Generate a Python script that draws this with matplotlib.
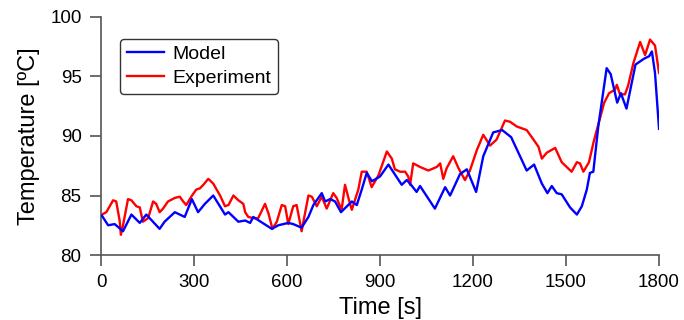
import matplotlib
matplotlib.use("Agg")
import matplotlib.pyplot as plt

plt.rcParams['font.family'] = ['Liberation Sans', 'DejaVu Sans']

# Model (blue)
model_t = [3, 23, 44, 71, 98, 125, 146, 189, 205, 238, 270, 293, 313, 335, 362,
           400, 411, 443, 465, 481, 491, 551, 572, 604, 620, 647, 669, 685, 712,
           723, 739, 755, 774, 809, 825, 841, 857, 874, 900, 927, 970, 986, 997,
           1018, 1029, 1077, 1110, 1126, 1158, 1180, 1210, 1233, 1265, 1294, 1323,
           1357, 1373, 1397, 1422, 1440, 1454, 1470, 1486, 1513, 1535, 1551, 1567,
           1577, 1588, 1604, 1631, 1644, 1665, 1677, 1695, 1724, 1752, 1768, 1777,
           1787, 1800]
model_T = [83.3, 82.5, 82.6, 82.0, 83.4, 82.7, 83.4, 82.2, 82.8, 83.6, 83.2, 84.7,
           83.6, 84.3, 85.0, 83.4, 83.6, 82.8, 82.9, 82.7, 83.2, 82.2, 82.5, 82.7,
           82.6, 82.3, 83.2, 84.2, 85.2, 84.5, 84.7, 84.5, 83.6, 84.5, 84.2, 85.5,
           86.9, 86.2, 86.6, 87.6, 85.9, 86.3, 86.0, 85.3, 85.8, 83.9, 85.7, 85.0,
           86.8, 87.2, 85.3, 88.3, 90.3, 90.5, 89.9, 88.0, 87.1, 87.6, 86.0, 85.2,
           85.8, 85.2, 85.1, 84.0, 83.4, 84.1, 85.5, 86.9, 87.0, 90.8, 95.7, 95.2,
           92.8, 93.6, 92.3, 96.0, 96.5, 96.7, 97.1, 95.3, 90.6]

# Experiment (red)
exp_t = [3, 17, 39, 49, 60, 64, 71, 87, 98, 114, 125, 135, 152, 168, 178, 189, 200,
         216, 238, 254, 265, 275, 291, 307, 319, 330, 346, 362, 384, 400, 411, 427,
         443, 459, 465, 475, 491, 507, 529, 540, 553, 567, 583, 594, 604, 620, 631,
         647, 669, 680, 696, 712, 728, 749, 760, 776, 787, 798, 809, 830, 841, 857,
         873, 895, 922, 938, 948, 965, 981, 991, 997, 1007, 1029, 1056, 1083, 1094,
         1104, 1115, 1136, 1153, 1174, 1190, 1212, 1233, 1255, 1276, 1303, 1319,
         1341, 1373, 1395, 1411, 1422, 1438, 1465, 1486, 1518, 1535, 1545, 1556,
         1574, 1589, 1623, 1639, 1658, 1664, 1674, 1690, 1700, 1717, 1739, 1755,
         1771, 1787, 1800]
exp_T = [83.4, 83.6, 84.6, 84.5, 82.9, 81.7, 82.5, 84.7, 84.6, 84.1, 84.0, 82.8,
         83.1, 84.5, 84.3, 83.6, 83.9, 84.5, 84.8, 84.9, 84.5, 84.2, 84.9, 85.5,
         85.6, 85.9, 86.4, 86.0, 85.0, 84.1, 84.2, 85.0, 84.6, 84.3, 83.6, 83.2,
         83.1, 83.1, 84.3, 83.5, 82.2, 82.8, 84.2, 84.1, 82.6, 84.1, 84.2, 82.0,
         85.0, 84.9, 84.1, 84.9, 83.9, 85.2, 84.8, 83.8, 85.9, 84.8, 83.8, 85.5,
         87.0, 87.0, 85.7, 86.7, 88.7, 88.1, 87.2, 87.0, 87.0, 86.6, 85.9, 87.7,
         87.4, 87.1, 87.4, 87.7, 86.4, 87.3, 88.3, 87.3, 86.3, 87.1, 88.8, 90.1,
         89.2, 89.7, 91.3, 91.2, 90.8, 90.5, 89.7, 89.1, 88.1, 88.6, 89.0, 87.8,
         87.0, 87.8, 87.7, 87.0, 87.8, 89.5, 92.8, 93.6, 93.9, 94.3, 93.5, 93.5,
         94.2, 96.1, 97.9, 96.8, 98.1, 97.6, 95.3]

x_ticks = [0, 300, 600, 900, 1200, 1500, 1800]
y_ticks = [80, 85, 90, 95, 100]

fig = plt.figure(figsize=(6.84, 3.2), dpi=100)
ax = fig.add_axes([0.1477, 0.203, 0.8158, 0.744])

ax.plot(model_t, model_T, color='#0000ff', lw=1.7, label='Model', zorder=3)
ax.plot(exp_t, exp_T, color='#ff0000', lw=1.7, label='Experiment', zorder=2)

ax.set_xlim(0, 1800)
ax.set_ylim(80, 100)
ax.set_xticks(x_ticks)
ax.set_yticks(y_ticks)

for side in ['top', 'right']:
    ax.spines[side].set_visible(False)
for side in ['left', 'bottom']:
    ax.spines[side].set_color('#555555')
    ax.spines[side].set_linewidth(1.2)
ax.tick_params(direction='out', length=8, width=1.2, color='#555555',
               labelsize=13.5, pad=6)

ax.set_xlabel('Time [s]', fontsize=17, labelpad=4)
ax.set_ylabel('Temperature [ºC]', fontsize=17, labelpad=7)

leg = ax.legend(loc='upper left', bbox_to_anchor=(0.034, 0.908), fontsize=14,
                frameon=True, fancybox=True, edgecolor='black', handlelength=1.9,
                handletextpad=0.45, borderpad=0.35, labelspacing=0.3,
                borderaxespad=0)
leg.get_frame().set_linewidth(1.0)

fig.savefig('out.png', dpi=100)
